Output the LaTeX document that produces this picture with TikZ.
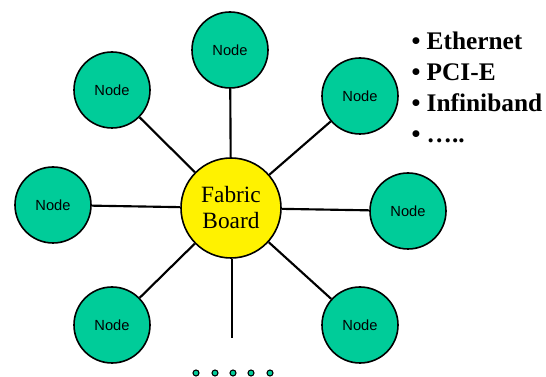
\documentclass[tikz,border=0pt]{standalone}
\usepackage{fontspec}
\setmainfont{Liberation Serif}
\newfontfamily\nodefont{Liberation Sans}
\usepackage{tikz}
\usetikzlibrary{arrows}

\definecolor{nodegreen}{RGB}{0,204,153}

\begin{document}
\begin{tikzpicture}[x=0.75pt,y=-0.75pt,line width=1.6pt,
                node circ/.style={circle,draw,fill=nodegreen,minimum size=57pt,inner sep=0pt,
                                  line width=1.2pt,font=\nodefont\fontsize{11}{13}\selectfont},
                hub/.style={circle,draw,fill=yellow,minimum size=75pt,inner sep=0pt,line width=1.2pt,
                            align=center,font=\rmfamily\fontsize{17.5}{19.5}\selectfont},
                dot/.style={circle,draw,fill=nodegreen,minimum size=4.5pt,inner sep=0pt,line width=0.8pt}]
                \useasboundingbox (0,0) rectangle (546,377);
                \node[hub] (fb) at (231,208) {Fabric\\Board};
                \node[node circ] (n0) at (230,50) {Node};
                \node[node circ] (n1) at (112,90) {Node};
                \node[node circ] (n2) at (360,96) {Node};
                \node[node circ] (n3) at (53,205) {Node};
                \node[node circ] (n4) at (408,211) {Node};
                \node[node circ] (n5) at (112,325) {Node};
                \node[node circ] (n6) at (360,325) {Node};
                \coordinate (tail) at (232,338);

                \path
                (fb) edge (n0)
                (fb) edge (n1)
                (fb) edge (n2)
                (fb) edge (n3)
                (fb) edge (n4)
                (fb) edge (n5)
                (fb) edge (n6)
                (fb.south -| tail) edge (tail)
                ;

                % more nodes below
                \foreach \x [count=\i] in {196,215,233,251,270}
                    \node[dot] (d\i) at (\x,373) {};

                % fabric types
                \node[anchor=north west,align=left,font=\bfseries\fontsize{19}{23.3}\selectfont]
                    (types) at (406,26) {• Ethernet\\• PCI-E\\• Infiniband\\• …..};
\end{tikzpicture}
\end{document}
